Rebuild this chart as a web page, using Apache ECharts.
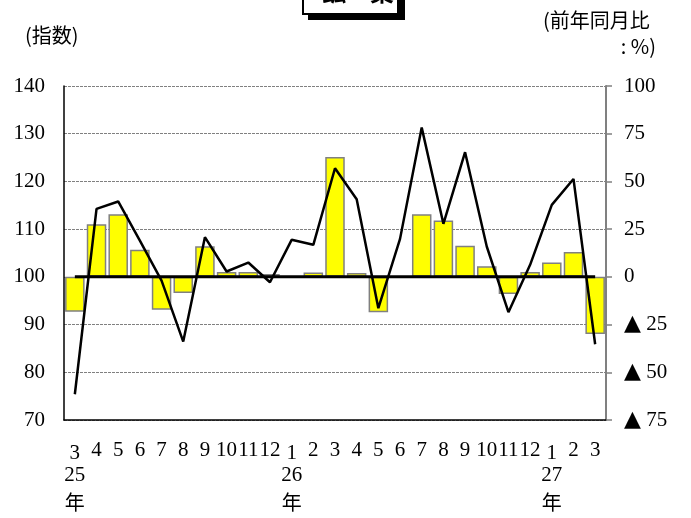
<!DOCTYPE html>
<html><head><meta charset="utf-8">
<script src="https://cdn.jsdelivr.net/npm/echarts@6/dist/echarts.min.js"></script>
<style>html,body{margin:0;padding:0;background:#fff}#c{width:691px;height:518px}</style>
</head><body><div id="c"></div>
<script>
const months = ['3','4','5','6','7','8','9','10','11','12','1','2','3','4','5','6','7','8','9','10','11','12','1','2','3'];
const yearMarks = ['25','','','','','','','','','','26','','','','','','','','','','','','27','',''];
const indexValues = [92.7,111.0,113.1,105.7,93.1,96.6,106.4,101.0,101.0,100.6,100.0,100.9,125.1,100.8,92.6,99.8,113.1,111.8,106.5,102.2,96.4,101.0,103.0,105.2,88.0];
const yoyValues = [-61.5,35.6,39.5,19,-2,-33.9,20.8,2.8,7.5,-2.8,19.4,16.8,56.9,40.7,-16.4,19.9,78.2,27.8,65.3,15.9,-18.5,6.3,37.7,51.3,-35.3];
const zeroLine = [0,0,0,0,0,0,0,0,0,0,0,0,0,0,0,0,0,0,0,0,0,0,0,0,0];
const indexBase = 100;
const leftTicks = {min:70, max:140, step:10};
const rightTicks = {min:-75, max:100, step:25};

const serif = '"Liberation Serif","Noto Sans CJK JP",serif';
const cjk = '"Noto Sans CJK JP",sans-serif';
const chart = echarts.init(document.getElementById('c'), null, {renderer:'canvas'});
chart.setOption({
  animation:false,
  backgroundColor:'#fff',
  grid:{left:64, right:85, top:86, bottom:98},
  xAxis:{type:'category', data:months, boundaryGap:true,
     axisLine:{onZero:false, lineStyle:{color:'#000', width:1.5}}, axisTick:{show:false},
     axisLabel:{interval:0, margin:18,
       formatter:(v,i)=> yearMarks[i] ? '{m2|'+v+'}\n{y|'+yearMarks[i]+'}\n{n|年}' : '{m|'+v+'}',
       rich:{
         m:{fontFamily:serif, fontSize:21, lineHeight:24, color:'#000'},
         m2:{fontFamily:serif, fontSize:21, lineHeight:30, color:'#000'},
         y:{fontFamily:serif, fontSize:21, lineHeight:15, color:'#000'},
         n:{fontFamily:cjk, fontSize:20, lineHeight:38, color:'#000'}
       }}},
  yAxis:[
    {type:'value', position:'left',
     min:leftTicks.min-indexBase, max:leftTicks.max-indexBase, interval:leftTicks.step,
     axisLine:{show:true, lineStyle:{color:'#000', width:1.5}}, axisTick:{show:false},
     axisLabel:{formatter:v=>String(v+indexBase), fontFamily:serif, fontSize:21, color:'#000', margin:19},
     splitLine:{show:true, lineStyle:{color:'#808080', type:[3,1], width:1}}},
    {type:'value', position:'right',
     min:rightTicks.min, max:rightTicks.max, interval:rightTicks.step,
     axisLine:{show:true, lineStyle:{color:'#808080', width:2}},
     axisTick:{show:true, length:6, lineStyle:{color:'#808080', width:1.5}},
     axisLabel:{formatter:v=> v<0 ? '{t|▲} '+(-v) : String(v), fontFamily:serif, fontSize:21, color:'#000', margin:18,
       rich:{t:{fontFamily:'"DejaVu Sans"', fontSize:22, color:'#000'}}},
     splitLine:{show:false}}
  ],
  series:[
    {type:'bar', xAxisIndex:0, yAxisIndex:0, data:indexValues.map(v=>+(v-indexBase).toFixed(2)),
     barWidth:'90%', itemStyle:{color:'#ffff00', borderColor:'#808080', borderWidth:1.5}, z:2},
    {type:'line', xAxisIndex:0, yAxisIndex:1, data:zeroLine, symbol:'none',
     lineStyle:{color:'#000', width:3}, z:3},
    {type:'line', xAxisIndex:0, yAxisIndex:1, data:yoyValues, symbol:'none',
     lineStyle:{color:'#000', width:2.5}, z:4}
  ],
  graphic:[
    {type:'rect', shape:{x:308, y:-10, width:97, height:30}, style:{fill:'#000'}, z:10},
    {type:'rect', shape:{x:303, y:-10, width:95, height:24}, style:{fill:'#fff', stroke:'#000', lineWidth:2}, z:11},
    {type:'text', left:322, top:-20, style:{text:'鉱　業', font:'bold 24px "Noto Sans CJK JP"', fill:'#000'}, z:12},
    {type:'text', style:{x:25, y:35, text:'(指数)', font:'20px "Noto Sans CJK JP"', fill:'#000', align:'left', verticalAlign:'middle'}},
    {type:'text', style:{x:543, y:20, text:'(前年同月比', font:'20px "Noto Sans CJK JP"', fill:'#000', align:'left', verticalAlign:'middle'}},
    {type:'text', style:{x:656, y:46, text:': %)', font:'20px "Noto Sans CJK JP"', fill:'#000', align:'right', verticalAlign:'middle'}}
  ]
});
</script></body></html>
